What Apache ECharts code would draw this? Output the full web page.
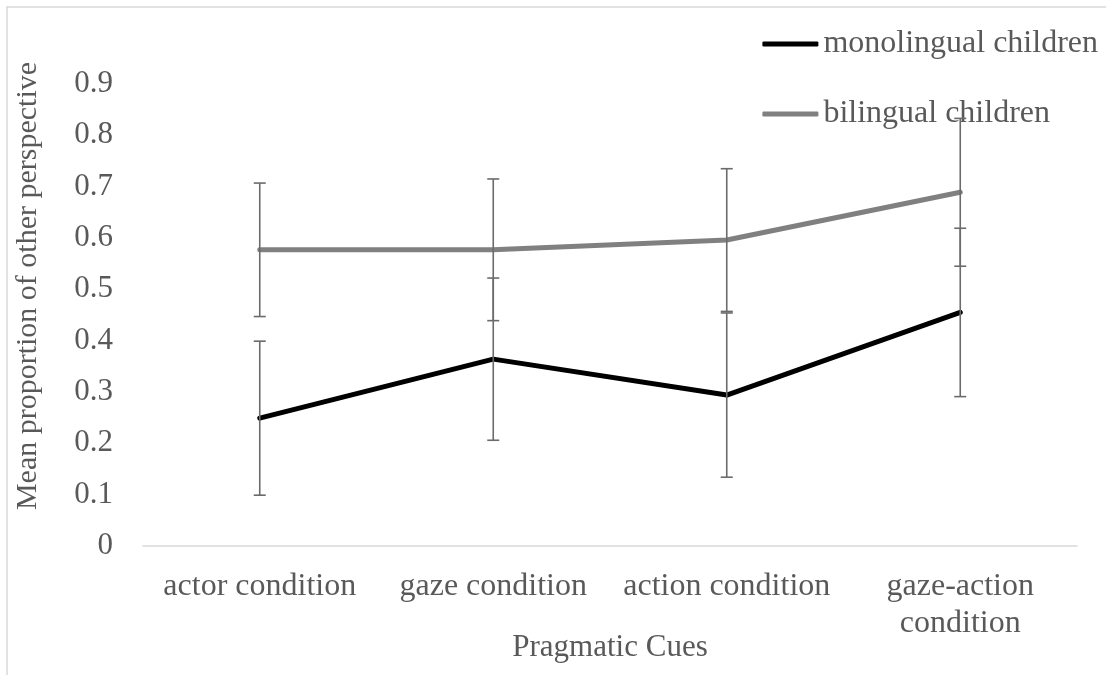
<!DOCTYPE html>
<html>
<head>
<meta charset="utf-8">
<script src="https://cdn.jsdelivr.net/npm/echarts@6/dist/echarts.min.js"></script>
<style>
html,body{margin:0;padding:0;background:#fff;overflow:hidden;}
#chart{width:1106px;height:675px;}
</style>
</head>
<body>
<div id="chart"></div>
<script>
const categories = ['actor condition', 'gaze condition', 'action condition', 'gaze-action\ncondition'];
const monoMean = [0.249, 0.364, 0.294, 0.455];
const monoErr = [0.150, 0.158, 0.160, 0.164];
const biMean = [0.577, 0.577, 0.596, 0.689];
const biErr = [0.130, 0.138, 0.139, 0.144];
const seriesNames = ['monolingual children', 'bilingual children'];
const yTicks = { min: 0, max: 0.9, interval: 0.1 };

const FONT = 'Liberation Serif';
const TXT = '#595959';

function errData(mean, err) {
  return mean.map((m, i) => [i, m - err[i], m + err[i]]);
}

function renderErr(params, api) {
  const x = api.value(0);
  const lo = api.coord([x, api.value(1)]);
  const hi = api.coord([x, api.value(2)]);
  const w = 6;
  const style = { stroke: '#6b6b6b', lineWidth: 1.6, fill: null };
  return {
    type: 'group',
    children: [
      { type: 'line', shape: { x1: lo[0], y1: lo[1], x2: hi[0], y2: hi[1] }, style },
      { type: 'line', shape: { x1: lo[0] - w, y1: lo[1], x2: lo[0] + w, y2: lo[1] }, style },
      { type: 'line', shape: { x1: hi[0] - w, y1: hi[1], x2: hi[0] + w, y2: hi[1] }, style }
    ]
  };
}

const chart = echarts.init(document.getElementById('chart'), null, { renderer: 'canvas' });
chart.setOption({
  animation: false,
  backgroundColor: '#fff',
  textStyle: { fontFamily: FONT, color: TXT },
  grid: { left: 143, right: 29, top: 84, bottom: 129, outerBoundsMode: 'none', containLabel: false },
  graphic: [
    { type: 'rect', shape: { x: 7, y: 7, width: 1200, height: 800 }, style: { fill: null, stroke: '#d9d9d9', lineWidth: 1.5 }, z: -1 },
    { type: 'text', x: 28, y: 286, rotation: Math.PI / 2,
      style: { text: 'Mean proportion of other perspective', font: '30px "Liberation Serif"', fill: TXT, align: 'center', verticalAlign: 'middle' } }
  ],
  legend: {
    orient: 'vertical', right: 3, top: 21,
    itemWidth: 56, itemHeight: 5, itemGap: 34,
    icon: 'roundRect',
    data: seriesNames,
    textStyle: { fontFamily: FONT, fontSize: 32, color: TXT, lineHeight: 36 }
  },
  xAxis: {
    type: 'category', data: categories, boundaryGap: true,
    axisLine: { lineStyle: { color: '#d9d9d9', width: 1.5 } },
    axisTick: { show: false },
    axisLabel: { interval: 0, fontFamily: FONT, fontSize: 32, color: TXT, lineHeight: 37, margin: 22, hideOverlap: false },
    name: 'Pragmatic Cues', nameLocation: 'middle', nameGap: 86, nameMoveOverlap: false,
    nameTextStyle: { fontFamily: FONT, fontSize: 31, color: TXT }
  },
  yAxis: {
    type: 'value', min: yTicks.min, max: yTicks.max, interval: yTicks.interval,
    axisLine: { show: false }, axisTick: { show: false }, splitLine: { show: false },
    axisLabel: { fontFamily: FONT, fontSize: 31, color: TXT, margin: 30,
      formatter: v => (Math.round(v * 10) / 10).toString() }
  },
  series: [
    { name: seriesNames[0], type: 'line', data: monoMean, showSymbol: false, symbol: 'none',
      lineStyle: { color: '#000', width: 5, cap: 'round' }, itemStyle: { color: '#000' }, z: 3 },
    { name: seriesNames[1], type: 'line', data: biMean, showSymbol: false, symbol: 'none',
      lineStyle: { color: '#808080', width: 5, cap: 'round' }, itemStyle: { color: '#808080' }, z: 3 },
    { type: 'custom', renderItem: renderErr, data: errData(monoMean, monoErr), encode: { x: 0, y: [1, 2] }, z: 4, silent: true },
    { type: 'custom', renderItem: renderErr, data: errData(biMean, biErr), encode: { x: 0, y: [1, 2] }, z: 4, silent: true }
  ]
});
</script>
</body>
</html>
